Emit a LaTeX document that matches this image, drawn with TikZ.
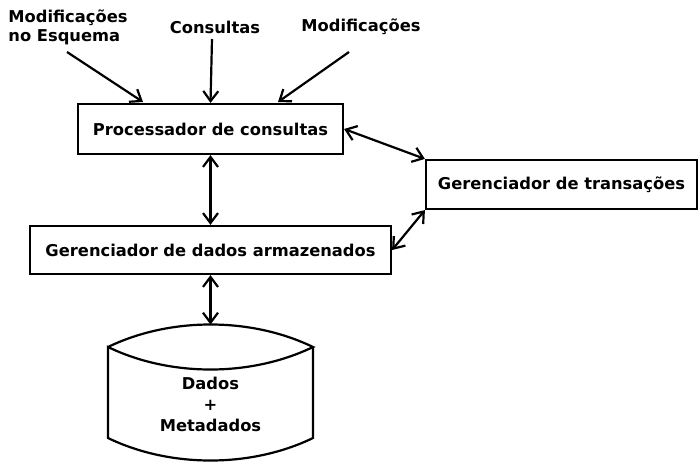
\documentclass[tikz,border=0pt]{standalone}
\usepackage{fontspec}
\setmainfont{DejaVu Sans}
\usetikzlibrary{arrows.meta}
\begin{document}
\begin{tikzpicture}[x=1pt,y=-1pt,line width=2.2pt,
    boxstyle/.style={draw,rectangle,minimum height=49pt,inner sep=0pt,font=\bfseries\fontsize{16.3}{19}\selectfont},
    labelstyle/.style={align=left,inner sep=0pt,font=\bfseries\fontsize{16.3}{19}\selectfont},
    dbstyle/.style={align=center,inner sep=0pt,font=\bfseries\fontsize{16.3}{21}\selectfont},
    link/.style={{Straight Barb[length=10pt,width=15pt]}-{Straight Barb[length=10pt,width=15pt]}},
    feed/.style={-{Straight Barb[length=10pt,width=15pt]}}]
\useasboundingbox (0,0) rectangle (699,461);
% inputs
\node[labelstyle] (schema) at (68,27) {Modificações\\no Esquema};
\node[labelstyle] (queries) at (215,27) {Consultas};
\node[labelstyle] (updates) at (361,27) {Modificações};
% boxes
\node[boxstyle,minimum width=265pt,minimum height=50pt] (proc) at (210.5,129) {Processador de consultas};
\node[boxstyle,minimum width=271pt] (trans) at (561.5,184.5) {Gerenciador de transações};
\node[boxstyle,minimum width=361pt,minimum height=48pt] (store) at (210.5,250) {Gerenciador de dados armazenados};
% storage
\draw (108,347) .. controls (170,317) and (251,317) .. (313,347)
      .. controls (251,377) and (170,377) .. (108,347)
      -- (108,438) .. controls (170,468) and (251,468) .. (313,438) -- (313,347);
\coordinate (dbtop) at (210.5,324.5);
\node[dbstyle] (db) at (210.5,404) {Dados\\+\\Metadados};
% connectors
\draw[feed] (67,52) -- (143,102);
\draw[feed] (212,39) -- (proc.north);
\draw[feed] (349,52) -- (278,102);
\draw[link] (proc.east) -- (trans.north west);
\draw[link] (trans.south west) -- (store.east);
\draw[link] (proc.south) -- (store.north);
\draw[link] (store.south) -- (dbtop);
\end{tikzpicture}
\end{document}
